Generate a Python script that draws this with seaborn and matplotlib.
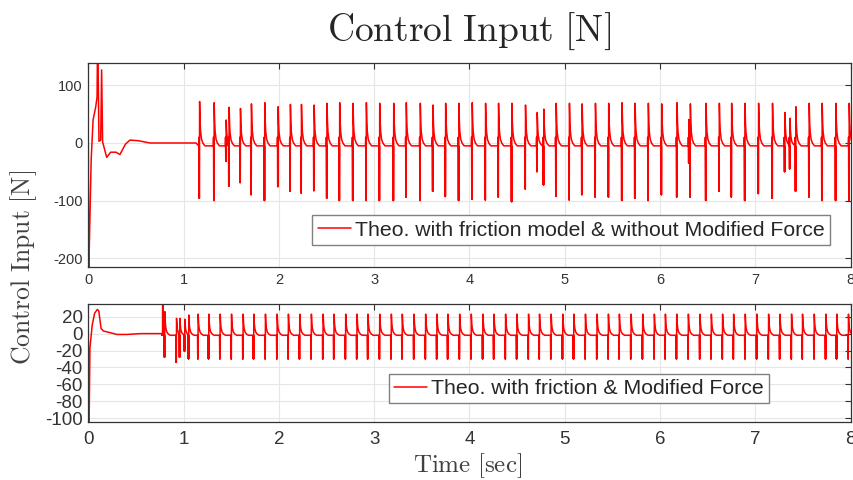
import numpy as np
import pandas as pd
import matplotlib
matplotlib.use("Agg")
import matplotlib.pyplot as plt
import seaborn as sns

# ---------------- data ----------------
# top panel: start-up transient (time [s], force [N])
top_start_t = [0.0, 0.004, 0.008, 0.030, 0.050, 0.077, 0.092, 0.098, 0.112, 0.130, 0.140,
               0.150, 0.193, 0.235, 0.290, 0.332, 0.390, 0.437, 0.525, 0.647, 1.130]
top_start_v = [0, -260, -200, -30, 40, 62, 80, 200, 3, 5, 127,
               2, -25, -16, -16, -20, -2, 5, 4, 0, 0]
# top panel: stick-slip events (time, upper peak, lower peak)
top_evt_t = [1.168, 1.321, 1.447, 1.478, 1.597, 1.712, 1.852, 1.992, 2.121, 2.237,
             2.370, 2.505, 2.638, 2.778, 2.918, 3.058, 3.205, 3.337, 3.484, 3.617,
             3.750, 3.889, 4.029, 4.169, 4.305, 4.445, 4.588, 4.711, 4.780, 4.910,
             5.049, 5.182, 5.322, 5.461, 5.601, 5.738, 5.877, 6.017, 6.178, 6.304,
             6.318, 6.482, 6.622, 6.751, 6.891, 7.034, 7.180, 7.310, 7.363, 7.425,
             7.565, 7.701, 7.845, 7.985]
top_evt_up = [72, 70, 40, 62, 60, 68, 70, 63, 67, 67,
              66, 69, 70, 69, 70, 69, 69, 70, 69, 66,
              69, 69, 70, 69, 69, 69, 66, 53, 59, 69,
              69, 68, 69, 69, 70, 69, 69, 68, 70, 41,
              68, 69, 69, 69, 69, 69, 69, 53, 43, 63,
              69, 69, 69, 69]
top_evt_down = [-96, -100, -32, -75, -69, -90, -100, -76, -84, -87,
                -83, -96, -100, -100, -100, -100, -100, -94, -100, -84,
                -93, -100, -98, -99, -94, -102, -80, -50, -73, -93,
                -99, -90, -94, -94, -100, -96, -100, -90, -94, -35,
                -94, -100, -84, -94, -100, -88, -96, -50, -45, -84,
                -94, -100, -100, -100]

# bottom panel: start-up transient
bot_start_t = [0.0, 0.004, 0.008, 0.017, 0.041, 0.066, 0.094, 0.110, 0.134, 0.160, 0.197,
               0.302, 0.407, 0.547, 0.770]
bot_start_v = [0, -130, -110, -17, 10, 24, 28.5, 27, 6, 3, 2,
               -1, -1, 0, 0]
# bottom panel: events (time, upper peak, lower peak)
bot_evt_t = [0.780, 0.803, 0.926, 0.961, 1.013, 1.055, 1.153, 1.265, 1.384, 1.503,
             1.625, 1.737, 1.859, 1.982, 2.100, 2.219, 2.341, 2.464, 2.579, 2.701,
             2.820, 2.935, 3.058, 3.180, 3.295, 3.418, 3.540, 3.659, 3.774, 3.897,
             4.019, 4.141, 4.257, 4.379, 4.498, 4.620, 4.735, 4.857, 4.979, 5.095,
             5.217, 5.339, 5.458, 5.573, 5.696, 5.818, 5.940, 6.056, 6.175, 6.297,
             6.419, 6.538, 6.656, 6.772, 6.894, 7.016, 7.139, 7.258, 7.380, 7.495,
             7.618, 7.740, 7.855, 7.977]
bot_evt_up = [45, 26, 18, 18, 17, 22, 23, 23, 23, 23,
              23, 23, 23, 23, 23, 23, 23, 23, 23, 23,
              23, 23, 23, 23, 23, 23, 23, 23, 23, 23,
              23, 23, 23, 23, 23, 23, 23, 23, 23, 23,
              23, 23, 23, 23, 23, 23, 23, 23, 23, 23,
              23, 23, 23, 23, 23, 23, 23, 23, 23, 23,
              23, 23, 23, 23]
bot_evt_down = [0, -28, -34, -28, -21, -30, -30, -30, -30, -30,
                -30, -30, -30, -30, -30, -30, -30, -30, -30, -30,
                -30, -30, -30, -30, -30, -30, -30, -30, -30, -30,
                -30, -30, -30, -30, -30, -30, -30, -30, -30, -30,
                -30, -30, -30, -30, -30, -30, -30, -30, -30, -30,
                -30, -30, -30, -30, -30, -30, -30, -30, -30, -30,
                -30, -30, -30, -30]

# shape of the decay after each upper peak (seconds after peak, fraction left)
decay_dt = [0.0, 0.005, 0.010, 0.020, 0.035, 0.055]
decay_frac = [1.0, 0.55, 0.33, 0.15, 0.06, 0.0]

top_label = "Theo. with friction model & without Modified Force"
bot_label = "Theo. with friction & Modified Force"


def build(start_t, start_v, ev_t, ev_up, ev_dn, base, pre, t_end=8.1):
    ts = list(start_t)
    vs = list(start_v)
    for i, (t, up, dn) in enumerate(zip(ev_t, ev_up, ev_dn)):
        tn = ev_t[i + 1] if i + 1 < len(ev_t) else t_end
        # small bump, sharp dip (with a rebound) and the upper peak
        ts += [t - 0.009, t - 0.007, t - 0.0045, t - 0.0035, t - 0.0025, t - 0.001, t]
        vs += [base, pre, dn, base, dn, base, up]
        for d, f in zip(decay_dt[1:], decay_frac[1:]):
            if t + d < tn - 0.010:
                ts.append(t + d)
                vs.append(base + (up - base) * f)
    return pd.DataFrame({"t": ts, "v": vs})


df_top = build(top_start_t, top_start_v, top_evt_t, top_evt_up, top_evt_down, -5, 10)
df_bot = build(bot_start_t, bot_start_v, bot_evt_t, bot_evt_up, bot_evt_down, -2, -2)

# ---------------- styling ----------------
sns.set_style("white")
plt.rcParams["font.family"] = ["Liberation Sans", "DejaVu Sans"]
plt.rcParams["mathtext.fontset"] = "cm"
plt.rcParams["axes.unicode_minus"] = False

fig = plt.figure(figsize=(8.54, 4.8), dpi=100)
ax1 = fig.add_axes([0.1034, 0.44375, 0.8927, 0.4256])
ax2 = fig.add_axes([0.1034, 0.1202, 0.8927, 0.2458])

sns.lineplot(data=df_top, x="t", y="v", ax=ax1, color="#ff0000", linewidth=1.1,
             estimator=None, sort=False, label=top_label)
sns.lineplot(data=df_bot, x="t", y="v", ax=ax2, color="#ff0000", linewidth=1.1,
             estimator=None, sort=False, label=bot_label)


def style(ax, ylim, yticks, fs, xpad, ypad):
    ax.set_xlim(0, 8)
    ax.set_ylim(*ylim)
    ax.set_xticks(range(9))
    ax.set_yticks(yticks)
    ax.set_xlabel("")
    ax.set_ylabel("")
    ax.grid(True, color="#e6e6e6", linewidth=0.8)
    ax.set_axisbelow(True)
    ax.tick_params(axis="both", direction="in", length=4.2, width=0.8,
                   top=True, right=True, labelsize=fs, colors="#333333")
    ax.tick_params(axis="x", pad=xpad)
    ax.tick_params(axis="y", pad=ypad)
    for s in ax.spines.values():
        s.set_color("#333333")
        s.set_linewidth(0.9)


style(ax1, (-215.5, 139.5), [-200, -100, 0, 100], 10.5, 4, 4)
style(ax2, (-104.8, 34.6), [-100, -80, -60, -40, -20, 0, 20], 13.5, 6.5, 4)

leg_kw = dict(loc="lower right", frameon=True, fancybox=False, framealpha=1,
              edgecolor="#808080", borderpad=0.25, handlelength=1.55,
              handletextpad=0.2, borderaxespad=0)
l1 = ax1.legend(bbox_to_anchor=(0.9729, 0.1077), fontsize=15.3, **leg_kw)
l2 = ax2.legend(bbox_to_anchor=(0.8932, 0.161), fontsize=15.3, **leg_kw)
for lg in (l1, l2):
    lg.get_frame().set_linewidth(1.0)
    for tx in lg.get_texts():
        tx.set_color("#262626")

fig.text(469.5 / 854, 1 - 40.5 / 480, r"$\mathrm{Control\ Input\ [N]}$",
         fontsize=27, ha="center", va="baseline", color="#262626")
fig.text(24 / 854, 1 - 267.5 / 480, r"$\mathrm{Control\ Input\ [N]}$",
         fontsize=18.5, ha="center", va="center", rotation=90, color="#404040")
fig.text(468 / 854, 1 - 472 / 480, r"$\mathrm{Time\ [sec]}$",
         fontsize=18, ha="center", va="baseline", color="#404040")

fig.savefig("out.png", dpi=100)
